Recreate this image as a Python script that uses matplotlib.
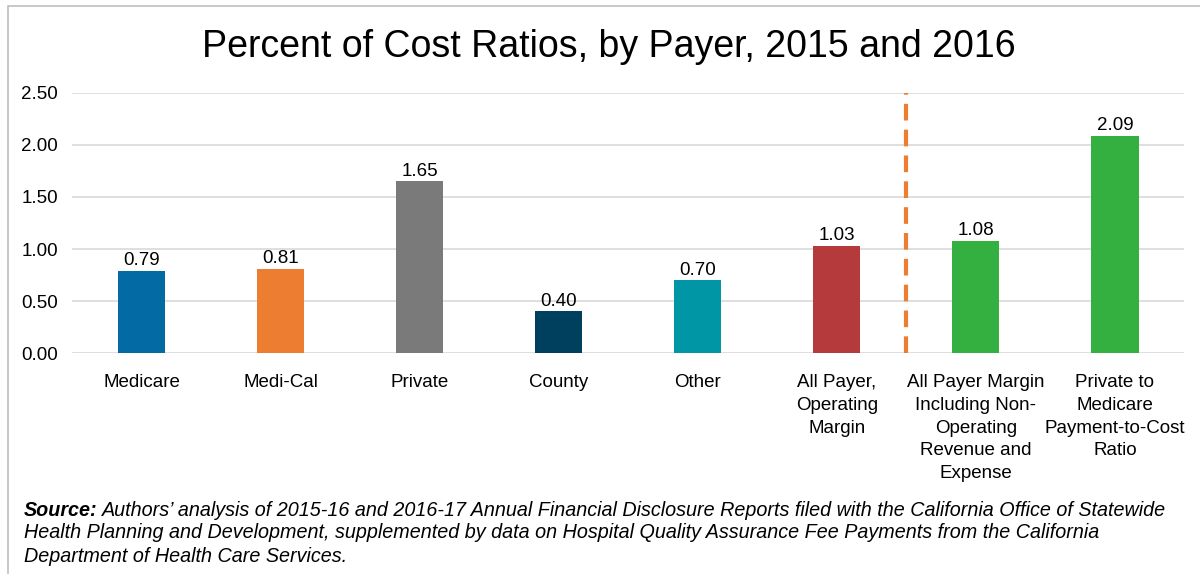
import matplotlib
matplotlib.use("Agg")
import matplotlib.pyplot as plt
from matplotlib.patches import Rectangle

categories = ["Medicare", "Medi-Cal", "Private", "County", "Other",
              "All Payer,\nOperating\nMargin",
              "All Payer Margin\nIncluding Non-\nOperating\nRevenue and\nExpense",
              "Private to\nMedicare\nPayment-to-Cost\nRatio"]
values = [0.79, 0.81, 1.65, 0.40, 0.70, 1.03, 1.08, 2.09]
value_labels = ["0.79", "0.81", "1.65", "0.40", "0.70", "1.03", "1.08", "2.09"]
colors = ["#046AA3", "#ED7D31", "#7A7A7A", "#00405F", "#0096A6", "#B53A3C", "#33B03F", "#33B03F"]
yticks = [0.0, 0.5, 1.0, 1.5, 2.0, 2.5]
ytick_labels = ["0.00", "0.50", "1.00", "1.50", "2.00", "2.50"]
title = "Percent of Cost Ratios, by Payer, 2015 and 2016"
source_bold = "Source:"
source_lines = ["Authors\u2019 analysis of 2015-16 and 2016-17 Annual Financial Disclosure Reports filed with the California Office of Statewide",
                "Health Planning and Development, supplemented by data on Hospital Quality Assurance Fee Payments from the California",
                "Department of Health Care Services."]

plt.rcParams['font.family'] = ['Liberation Sans', 'DejaVu Sans']

W, H = 1200, 574
fig = plt.figure(figsize=(12, 5.74), dpi=100)
ax = fig.add_axes([0.06, 0.385, 0.927, 0.453])

x = list(range(len(categories)))
ax.bar(x, values, width=0.34, color=colors, zorder=3)
for xi, v, lab in zip(x, values, value_labels):
    ax.text(xi, v + 0.015, lab, ha="center", va="bottom", fontsize=13.5, color="#000000")

ax.set_xlim(-0.5, len(categories) - 0.5)
ax.set_ylim(0, 2.5)
ax.set_yticks(yticks)
ax.set_yticklabels(ytick_labels, fontsize=13.5)
ax.set_xticks(x)
ax.set_xticklabels(categories, fontsize=13.5, linespacing=1.45, va="top")
ax.tick_params(axis="x", length=0, pad=15)
ax.tick_params(axis="y", length=0, pad=10)
for s in ax.spines.values():
    s.set_visible(False)
ax.grid(axis="y", color="#D9D9D9", linewidth=1.2, zorder=0)
ax.set_axisbelow(True)

ax.axvline(5.5, color="#ED7D31", linewidth=3, linestyle=(0, (4, 2.2)), zorder=4)

fig.text(609/W, 1 - 47/H, title, ha="center", va="center", fontsize=27)

# frame border
fig.patches.append(Rectangle((8/W, -0.1), 1.2, (1 - 6/H) + 0.1,
                             transform=fig.transFigure, fill=False,
                             edgecolor="#BFBFBF", linewidth=1.2))

fs = 14.2
x0 = 24/W
ys = [510, 533, 556]
tb = fig.text(x0, 1 - ys[0]/H, source_bold, ha="left", va="center",
              fontsize=fs, fontweight="bold", style="italic")
fig.canvas.draw()
bb = tb.get_window_extent(renderer=fig.canvas.get_renderer())
x1 = bb.x1 / W + 4/W
fig.text(x1, 1 - ys[0]/H, source_lines[0], ha="left", va="center", fontsize=fs, style="italic")
for yy, line in zip(ys[1:], source_lines[1:]):
    fig.text(x0, 1 - yy/H, line, ha="left", va="center", fontsize=fs, style="italic")

fig.savefig("out.png", dpi=100)
